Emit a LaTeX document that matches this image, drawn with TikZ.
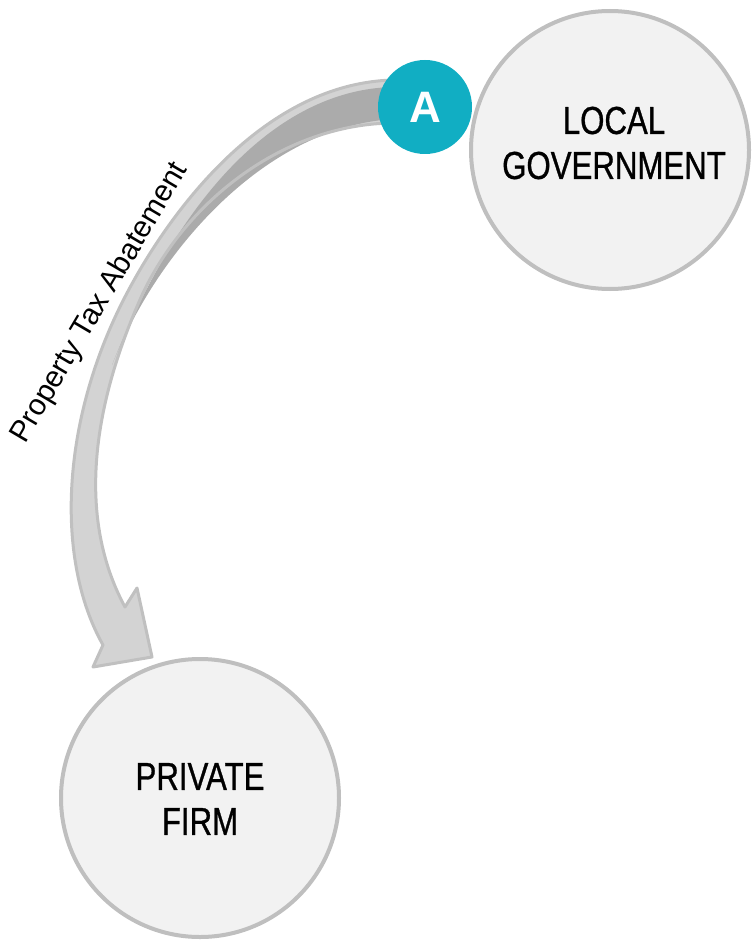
\documentclass[tikz,border=0pt]{standalone}
\usepackage{fontspec}
\setmainfont{Liberation Sans}
\newfontfamily\condfont[FakeStretch=0.8,FakeBold=0.8]{Liberation Sans}
\definecolor{circfill}{HTML}{F2F2F2}
\definecolor{circline}{HTML}{BFBFBF}
\definecolor{badgeteal}{HTML}{11AEC3}
\definecolor{arrlight}{HTML}{D3D3D3}
\definecolor{arrdark}{HTML}{ABABAB}
\definecolor{arrline}{HTML}{C0C0C0}
\tikzset{
  entity/.style={circle, draw=circline, line width=4pt, fill=circfill, minimum size=278pt, inner sep=0pt},
  nametext/.style={align=center, font=\condfont\fontsize{39}{45}\selectfont, text=black, inner sep=0pt},
  badge/.style={circle, fill=badgeteal, minimum size=94pt, inner sep=0pt, text=white, font=\bfseries\fontsize{44}{48}\selectfont},
  lbl/.style={font=\fontsize{29.8}{32}\selectfont, text=black, inner sep=0pt},
  arrowfill/.style={fill=arrlight},
  arrowline/.style={draw=arrline, line width=3pt, line join=round},
  arrowshade/.style={fill=arrdark}
}
\begin{document}
\begin{tikzpicture}[x=1pt,y=-1pt]
\useasboundingbox (0,0) rectangle (753,944);
\def\arrowpath{(395,80) .. controls (265,82) and (170.5,210.5) .. (127,293)
  .. controls (60,420) and (55,560) .. (103,645)
  -- (93,667) -- (152,657) -- (137,588) -- (125,607)
  .. controls (78,520) and (90,410) .. (143,293)
  .. controls (190,195) and (290,123) .. (395,123) -- cycle}
\fill[arrowfill] \arrowpath;
\fill[arrowshade] (395,87) .. controls (295,88) and (190,170) .. (112,365)
  .. controls (160,245) and (270,125) .. (395,119) -- cycle;
\draw[arrowline] \arrowpath;
\node[entity] (gov) at (610,150) {};
\node[entity] (firm) at (200,798) {};
\node[nametext] (govtxt) at (614,143) {LOCAL\\GOVERNMENT};
\node[nametext] (firmtxt) at (200,799) {PRIVATE\\FIRM};
\node[badge] (A) at (425,107) {A};
\node[lbl, rotate=59.5] (lab) at (100,303) {Property Tax Abatement};
\end{tikzpicture}
\end{document}
